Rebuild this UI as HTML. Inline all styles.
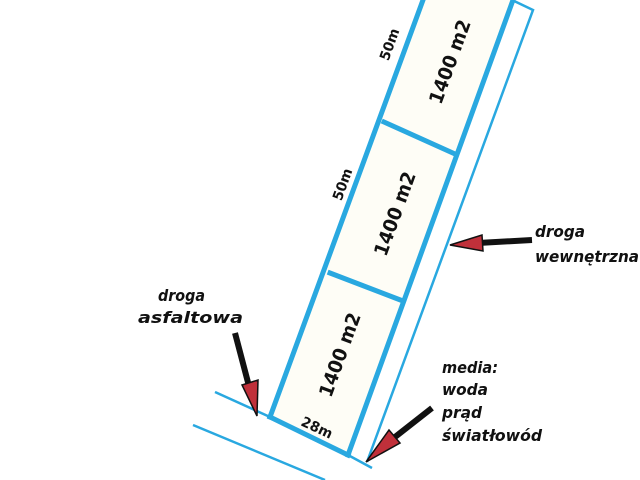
<!DOCTYPE html>
<html><head><style>
html,body{margin:0;padding:0;background:#fff;}
svg{display:block;}
text{font-family:"DejaVu Sans","Liberation Sans",sans-serif;font-weight:bold;font-style:italic;fill:#111;}
.n{font-style:normal;}
</style></head><body>
<svg width="640" height="480" viewBox="0 0 640 480" xmlns="http://www.w3.org/2000/svg">
<rect width="640" height="480" fill="#fff"/>
<polygon points="270,417 422,0 512,0 348,455" fill="#fefdf6"/>
<g stroke="#29a8e0" stroke-width="2.5" fill="none">
<polyline points="512,0 533,10 367,462"/>
<line x1="215" y1="392" x2="270" y2="417"/>
<line x1="348" y1="455" x2="372" y2="468"/>
<line x1="193" y1="425" x2="325" y2="480"/>
</g>
<g stroke="#29a8e0" stroke-width="5" fill="none" stroke-linecap="square">
<line x1="270" y1="417" x2="423" y2="0"/>
<line x1="348" y1="455" x2="513" y2="0"/>
<line x1="270" y1="417" x2="348" y2="455"/>
<line x1="384" y1="122" x2="455" y2="154"/>
<line x1="330" y1="273" x2="403" y2="301"/>
</g>
<g>
<line x1="235" y1="333" x2="250" y2="390" stroke="#111" stroke-width="6"/>
<polygon points="242,385 258,380 257,416" fill="#c0303a" stroke="#111" stroke-width="1.5"/>
<line x1="532" y1="240" x2="478" y2="243" stroke="#111" stroke-width="6"/>
<polygon points="482,235 483,251 450,245" fill="#c0303a" stroke="#111" stroke-width="1.5"/>
<line x1="432" y1="408" x2="395" y2="437" stroke="#111" stroke-width="6"/>
<polygon points="389,430 400,443 366,462" fill="#c0303a" stroke="#111" stroke-width="1.5"/>
</g>
<g font-size="19">
<text class="n" x="0" y="0" text-anchor="middle" textLength="88" lengthAdjust="spacingAndGlyphs" transform="translate(456,64) rotate(-70)">1400 m2</text>
<text class="n" x="0" y="0" text-anchor="middle" textLength="88" lengthAdjust="spacingAndGlyphs" transform="translate(401,216) rotate(-70)">1400 m2</text>
<text class="n" x="0" y="0" text-anchor="middle" textLength="88" lengthAdjust="spacingAndGlyphs" transform="translate(346,357) rotate(-70)">1400 m2</text>
</g>
<g font-size="14">
<text class="n" x="0" y="0" text-anchor="middle" textLength="33" lengthAdjust="spacingAndGlyphs" transform="translate(394,46) rotate(-70)">50m</text>
<text class="n" x="0" y="0" text-anchor="middle" textLength="33" lengthAdjust="spacingAndGlyphs" transform="translate(347,186) rotate(-70)">50m</text>
<text class="n" x="0" y="0" text-anchor="middle" textLength="33" lengthAdjust="spacingAndGlyphs" transform="translate(315,432) rotate(25)">28m</text>
</g>
<g font-size="16">
<text x="158" y="301" textLength="47" lengthAdjust="spacingAndGlyphs">droga</text>
<text x="138" y="323" textLength="105" lengthAdjust="spacingAndGlyphs">asfaltowa</text>
<text x="535" y="237" textLength="50" lengthAdjust="spacingAndGlyphs">droga</text>
<text x="535" y="262" textLength="104" lengthAdjust="spacingAndGlyphs">wewnętrzna</text>
<text x="442" y="373" textLength="56" lengthAdjust="spacingAndGlyphs">media:</text>
<text x="442" y="395" textLength="46" lengthAdjust="spacingAndGlyphs">woda</text>
<text x="442" y="418" textLength="40" lengthAdjust="spacingAndGlyphs">prąd</text>
<text x="442" y="441" textLength="100" lengthAdjust="spacingAndGlyphs">światłowód</text>
</g>
</svg>
</body></html>
